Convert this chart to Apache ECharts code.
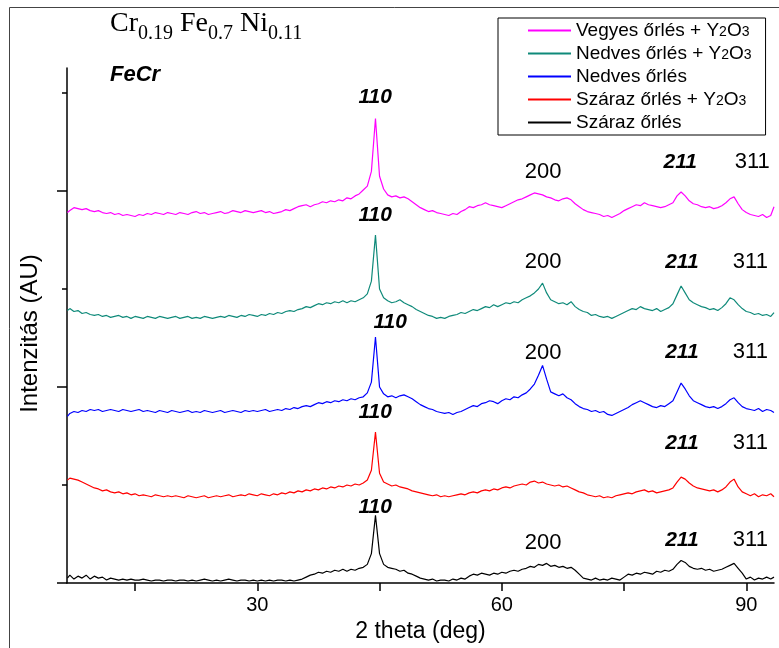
<!DOCTYPE html>
<html>
<head>
<meta charset="utf-8">
<script src="https://cdn.jsdelivr.net/npm/echarts@6/dist/echarts.min.js"></script>
<style>html,body{margin:0;padding:0;background:#fff}#c{width:779px;height:648px}</style>
</head>
<body>
<div id="c"></div>
<script>
// 2 theta (deg)
const theta = [6.7, 7, 7.5, 8, 8.5, 9, 9.5,
 10,10.5,11,11.5,12,12.5,13,13.5,14,14.5,15,15.5,16,16.5,17,17.5,18,18.5,19,19.5,
 20,20.5,21,21.5,22,22.5,23,23.5,24,24.5,25,25.5,26,26.5,27,27.5,28,28.5,29,29.5,
 30,30.5,31,31.5,32,32.5,33,33.5,34,34.5,35,35.5,36,36.5,37,37.5,38,38.5,39,39.5,
 40,40.5,41,41.5,42,42.5,43,43.5,44,44.5,45,45.5,46,46.5,47,47.5,48,48.5,49,49.5,
 50,50.5,51,51.5,52,52.5,53,53.5,54,54.5,55,55.5,56,56.5,57,57.5,58,58.5,59,59.5,
 60,60.5,61,61.5,62,62.5,63,63.5,64,64.5,65,65.5,66,66.5,67,67.5,68,68.5,69,69.5,
 70,70.5,71,71.5,72,72.5,73,73.5,74,74.5,75,75.5,76,76.5,77,77.5,78,78.5,79,79.5,
 80,80.5,81,81.5,82,82.5,83,83.5,84,84.5,85,85.5,86,86.5,87,87.5,88,88.5,89,89.5,
 90,90.5,91,91.5,92,92.5,93,93.4];

// Vegyes őrlés + Y2O3 (magenta)
const vegyesY = [3.78,3.80,3.83,3.82,3.81,3.82,3.80,
 3.79,3.80,3.78,3.77,3.78,3.76,3.77,3.75,3.76,3.75,3.74,3.76,3.75,3.77,3.76,3.78,3.77,3.76,3.78,3.77,
 3.76,3.78,3.77,3.76,3.78,3.79,3.77,3.78,3.76,3.77,3.78,3.79,3.77,3.78,3.80,3.79,3.78,3.80,3.79,3.78,
 3.79,3.80,3.78,3.79,3.77,3.78,3.79,3.81,3.80,3.82,3.84,3.85,3.86,3.84,3.86,3.87,3.89,3.88,3.90,3.89,
 3.91,3.90,3.93,3.92,3.95,3.97,4.01,4.05,4.20,4.74,4.15,4.02,3.96,3.94,3.95,3.93,3.94,3.92,3.89,3.86,
 3.83,3.81,3.79,3.80,3.78,3.77,3.76,3.75,3.77,3.76,3.79,3.81,3.84,3.83,3.85,3.86,3.88,3.86,3.85,3.84,
 3.83,3.85,3.87,3.89,3.91,3.92,3.94,3.96,3.98,3.97,3.96,3.94,3.93,3.91,3.90,3.92,3.93,3.91,3.87,3.84,
 3.81,3.79,3.78,3.77,3.76,3.74,3.75,3.73,3.75,3.77,3.80,3.82,3.84,3.86,3.85,3.88,3.86,3.85,3.84,3.83,
 3.84,3.86,3.88,3.95,3.99,3.95,3.90,3.87,3.86,3.84,3.83,3.84,3.82,3.83,3.85,3.88,3.92,3.94,3.87,3.81,
 3.78,3.76,3.75,3.74,3.76,3.73,3.75,3.84];

// Nedves őrlés + Y2O3 (teal)
const nedvesY = [2.78,2.80,2.77,2.78,2.75,2.76,2.74,
 2.73,2.74,2.72,2.73,2.71,2.72,2.73,2.71,2.72,2.70,2.72,2.71,2.70,2.72,2.71,2.70,2.72,2.71,2.70,2.71,
 2.72,2.70,2.71,2.72,2.70,2.71,2.70,2.72,2.71,2.70,2.71,2.72,2.71,2.73,2.72,2.71,2.73,2.72,2.74,2.73,
 2.72,2.74,2.73,2.75,2.74,2.76,2.75,2.77,2.78,2.77,2.79,2.80,2.82,2.81,2.83,2.85,2.84,2.86,2.85,2.87,
 2.86,2.88,2.86,2.88,2.87,2.89,2.91,2.95,3.08,3.55,3.00,2.91,2.88,2.86,2.87,2.89,2.86,2.84,2.82,2.79,
 2.77,2.75,2.73,2.72,2.70,2.71,2.70,2.72,2.73,2.74,2.76,2.75,2.77,2.79,2.78,2.80,2.82,2.81,2.84,2.82,
 2.84,2.86,2.85,2.87,2.86,2.89,2.91,2.93,2.96,3.00,3.06,2.96,2.89,2.87,2.85,2.86,2.84,2.87,2.82,2.79,
 2.77,2.76,2.73,2.74,2.72,2.71,2.72,2.70,2.72,2.74,2.76,2.78,2.80,2.79,2.82,2.80,2.79,2.78,2.80,2.77,
 2.79,2.81,2.85,2.94,3.03,2.96,2.89,2.86,2.84,2.82,2.81,2.79,2.80,2.78,2.81,2.85,2.91,2.89,2.84,2.80,
 2.77,2.76,2.74,2.75,2.73,2.74,2.72,2.76];

// Nedves őrlés (blue)
const nedves = [1.70,1.73,1.75,1.74,1.76,1.75,1.77,
 1.76,1.77,1.75,1.76,1.77,1.76,1.75,1.77,1.76,1.75,1.76,1.77,1.75,1.76,1.75,1.74,1.76,1.75,1.74,1.76,
 1.75,1.74,1.75,1.76,1.74,1.75,1.74,1.76,1.75,1.74,1.75,1.76,1.74,1.75,1.76,1.75,1.74,1.76,1.75,1.76,
 1.75,1.76,1.77,1.75,1.76,1.77,1.76,1.78,1.77,1.79,1.78,1.80,1.81,1.80,1.82,1.84,1.83,1.85,1.84,1.86,
 1.85,1.87,1.86,1.88,1.87,1.89,1.90,1.94,2.05,2.51,2.00,1.93,1.90,1.91,1.89,1.91,1.92,1.90,1.88,1.85,
 1.82,1.80,1.78,1.77,1.75,1.74,1.73,1.74,1.72,1.74,1.75,1.77,1.79,1.81,1.80,1.83,1.84,1.86,1.85,1.83,
 1.86,1.88,1.87,1.90,1.89,1.92,1.94,1.98,2.03,2.12,2.22,2.08,1.95,1.93,1.91,1.93,1.89,1.87,1.83,1.80,
 1.78,1.77,1.75,1.76,1.74,1.75,1.72,1.71,1.73,1.75,1.77,1.79,1.82,1.84,1.86,1.84,1.82,1.80,1.79,1.81,
 1.80,1.83,1.86,1.95,2.04,1.98,1.91,1.86,1.84,1.82,1.80,1.79,1.80,1.78,1.80,1.83,1.87,1.89,1.84,1.80,
 1.78,1.77,1.76,1.78,1.75,1.77,1.76,1.74];

// Száraz őrlés + Y2O3 (red)
const szarazY = [1.05,1.07,1.06,1.05,1.03,1.01,0.99,
 0.97,0.96,0.94,0.95,0.93,0.92,0.93,0.91,0.92,0.90,0.91,0.89,0.90,0.89,0.88,0.90,0.89,0.88,0.89,0.88,
 0.89,0.88,0.87,0.89,0.88,0.87,0.88,0.89,0.87,0.88,0.89,0.88,0.89,0.90,0.88,0.89,0.90,0.89,0.91,0.90,
 0.89,0.91,0.90,0.89,0.91,0.90,0.92,0.91,0.93,0.92,0.94,0.93,0.95,0.94,0.96,0.95,0.97,0.96,0.98,0.97,
 0.99,0.98,1.00,0.99,1.01,1.00,1.02,1.05,1.15,1.54,1.12,1.03,1.01,0.99,1.00,0.98,0.97,0.96,0.94,0.93,
 0.92,0.91,0.90,0.89,0.90,0.88,0.89,0.88,0.89,0.90,0.91,0.90,0.92,0.93,0.92,0.94,0.95,0.94,0.96,0.95,
 0.97,0.98,0.97,0.99,1.00,1.01,1.00,1.03,1.04,1.02,1.03,1.01,1.00,0.99,1.00,0.98,0.99,0.97,0.95,0.93,
 0.92,0.90,0.89,0.88,0.89,0.87,0.88,0.87,0.89,0.90,0.91,0.92,0.91,0.93,0.94,0.95,0.93,0.94,0.92,0.93,
 0.94,0.95,0.97,1.03,1.08,1.06,1.02,0.99,0.97,0.96,0.95,0.94,0.95,0.93,0.95,0.98,1.03,1.06,0.98,0.93,
 0.91,0.89,0.91,0.88,0.90,0.89,0.91,0.88];

// Száraz őrlés (black)
const szaraz = [0.05,0.08,0.04,0.07,0.05,0.08,0.04,
 0.07,0.05,0.06,0.03,0.05,0.04,0.03,0.04,0.03,0.04,0.03,0.03,0.04,0.03,0.02,0.03,0.03,0.02,0.03,0.03,
 0.02,0.03,0.03,0.02,0.03,0.02,0.03,0.04,0.03,0.02,0.03,0.02,0.03,0.04,0.03,0.02,0.03,0.03,0.02,0.03,
 0.02,0.03,0.02,0.03,0.02,0.03,0.03,0.02,0.03,0.02,0.03,0.04,0.06,0.08,0.09,0.11,0.10,0.12,0.11,0.13,
 0.12,0.14,0.12,0.14,0.13,0.15,0.16,0.19,0.30,0.69,0.30,0.19,0.16,0.15,0.14,0.12,0.13,0.10,0.09,0.07,
 0.05,0.04,0.03,0.04,0.02,0.03,0.03,0.02,0.04,0.03,0.05,0.04,0.07,0.09,0.08,0.10,0.09,0.08,0.10,0.09,
 0.11,0.10,0.12,0.13,0.12,0.14,0.15,0.17,0.16,0.19,0.18,0.20,0.17,0.18,0.16,0.17,0.15,0.16,0.13,0.09,
 0.05,0.04,0.03,0.05,0.03,0.04,0.03,0.05,0.04,0.03,0.06,0.09,0.08,0.10,0.09,0.11,0.10,0.09,0.12,0.11,
 0.13,0.12,0.14,0.19,0.23,0.21,0.17,0.15,0.14,0.15,0.13,0.14,0.12,0.13,0.14,0.16,0.18,0.20,0.15,0.10,
 0.04,0.06,0.03,0.05,0.04,0.06,0.04,0.06];

const seriesNames = ['Vegyes őrlés + Y2O3', 'Nedves őrlés + Y2O3', 'Nedves őrlés', 'Száraz őrlés + Y2O3', 'Száraz őrlés'];
const seriesValues = [vegyesY, nedvesY, nedves, szarazY, szaraz];
const seriesColors = ['#ff00ff', '#0f8a7a', '#0000ff', '#ff0000', '#000000'];

// x tick values and labels
const xTicks = [15, 30, 45, 60, 75, 90];
const xTickLabels = [30, 60, 90];
const yMinorTicks = [1, 3, 5];
const yMajorTicks = [0, 2, 4];

// reflection labels (2theta, intensity)
const hkl110 = [[44.46, 4.96], [44.46, 3.755], [46.3, 2.66], [44.46, 1.745], [44.46, 0.776]];
const hkl200 = [[65.07, 4.19], [65.07, 3.276], [65.07, 2.347], [65.07, 0.408]];
const hkl211 = [[81.9, 4.296], [82.1, 3.276], [82.1, 2.357], [82.1, 1.43], [82.1, 0.44]];
const hkl311 = [[90.73, 4.296], [90.5, 3.276], [90.5, 2.357], [90.5, 1.43], [90.5, 0.44]];

const chart = echarts.init(document.getElementById('c'), null, {renderer: 'canvas'});
const SANS = 'Liberation Sans, Arial, sans-serif';
const SERIF = 'Liberation Serif, Times New Roman, serif';

const lineSeries = seriesNames.map((n, i) => ({
  name: n,
  type: 'line',
  symbol: 'none',
  clip: true,
  lineStyle: {color: seriesColors[i], width: 1.2},
  itemStyle: {color: seriesColors[i]},
  data: theta.map((t, k) => [t, seriesValues[i][k]]),
  z: 5 - i
}));

function annItems(arr, text, bold) {
  return arr.map(p => ({
    value: p,
    name: text,
    label: {
      show: true, position: 'inside', formatter: text,
      fontFamily: SANS, fontSize: bold ? 21 : 22,
      fontWeight: bold ? 'bold' : 'normal', fontStyle: bold ? 'italic' : 'normal',
      color: '#000', textBorderWidth: 0, opacity: 1
    }
  }));
}

const annSeries = {
  name: 'hkl', type: 'scatter', symbol: 'circle', symbolSize: 1,
  itemStyle: {color: 'rgba(255,255,255,0)'}, silent: true, z: 10,
  data: [].concat(annItems(hkl110, '110', true), annItems(hkl200, '200', false),
                  annItems(hkl211, '211', true), annItems(hkl311, '311', false))
};

const y2o3 = n => n.replace('Y2O3', 'Y{s|2}O{s|3}');

chart.setOption({
  animation: false,
  backgroundColor: '#fff',
  graphic: [{
    type: 'rect', left: 7, top: 5, silent: true,
    shape: {width: 820, height: 700},
    style: {fill: 'none', stroke: '#444', lineWidth: 1}
  }],
  title: [{
    left: 110, top: 10, padding: 0,
    text: '{m|Cr}{s|0.19}{m| Fe}{s|0.7}{m| Ni}{s|0.11}',
    textStyle: {
      fontWeight: 'normal',
      rich: {
        m: {fontFamily: SERIF, fontSize: 28, fontWeight: 'normal', color: '#000', lineHeight: 28, verticalAlign: 'top'},
        s: {fontFamily: SERIF, fontSize: 20, fontWeight: 'normal', color: '#000', lineHeight: 20, verticalAlign: 'top', padding: [14, 0, 0, 0]}
      }
    }
  }, {
    left: 110, top: 64, padding: 0, text: 'FeCr',
    textStyle: {fontFamily: SANS, fontSize: 22, fontWeight: 'bold', fontStyle: 'italic', color: '#000'}
  }],
  legend: {
    orient: 'vertical', left: 498, top: 18,
    data: seriesNames,
    icon: 'rect',
    borderColor: '#000', borderWidth: 1, borderRadius: 0,
    padding: [3, 14, 3, 30],
    itemWidth: 43, itemHeight: 2, itemGap: 4,
    formatter: y2o3,
    textStyle: {
      fontFamily: SANS, fontSize: 19, color: '#000', lineHeight: 19,
      rich: {s: {fontFamily: SANS, fontSize: 14, color: '#000', padding: [4, 0, 0, 0]}}
    }
  },
  grid: {left: 67, right: 5, top: 68, bottom: 65, containLabel: false, outerBoundsMode: 'none'},
  xAxis: {
    type: 'value', min: 6.65, max: 93.4,
    name: '2 theta (deg)', nameLocation: 'middle', nameGap: 37,
    nameTextStyle: {fontFamily: SANS, fontSize: 23, color: '#000'},
    axisLine: {lineStyle: {color: '#000', width: 1.5}},
    axisTick: {show: true, inside: false, length: 8, customValues: xTicks, lineStyle: {color: '#000', width: 1.5}},
    axisLabel: {customValues: xTickLabels, fontFamily: SANS, fontSize: 20, color: '#000', margin: 12},
    splitLine: {show: false}
  },
  yAxis: [{
    type: 'value', min: 0, max: 5.255, position: 'left',
    name: 'Intenzitás (AU)', nameLocation: 'middle', nameGap: 25,
    nameTextStyle: {fontFamily: SANS, fontSize: 24, color: '#000', padding: [0, 16, 0, 0]},
    axisLine: {show: true, lineStyle: {color: '#000', width: 1.5}},
    axisTick: {show: true, inside: false, length: 5, customValues: yMinorTicks, lineStyle: {color: '#000', width: 1.5}},
    axisLabel: {show: false},
    splitLine: {show: false}
  }, {
    type: 'value', min: 0, max: 5.255, position: 'left', offset: 0,
    axisLine: {show: false},
    axisTick: {show: true, inside: false, length: 10, customValues: yMajorTicks, lineStyle: {color: '#000', width: 1.5}},
    axisLabel: {show: false},
    splitLine: {show: false}
  }],
  series: lineSeries.concat([annSeries])
});
</script>
</body>
</html>
